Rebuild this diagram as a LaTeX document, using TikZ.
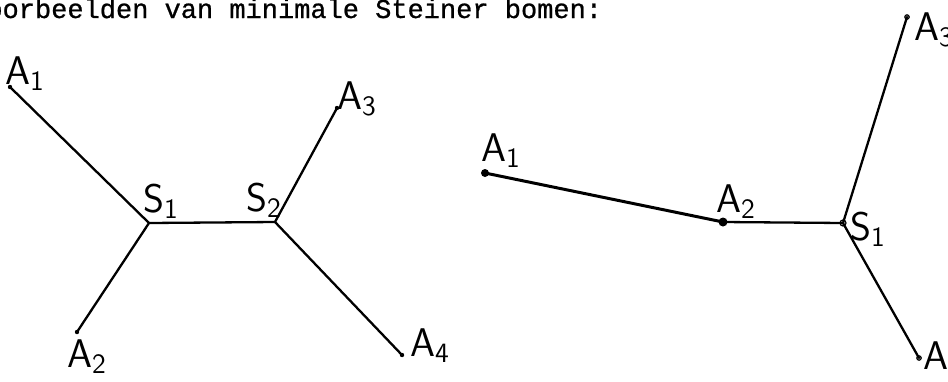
\documentclass[tikz,border=0pt]{standalone}
\usepackage{fontspec}
\newfontfamily\typefont{Liberation Mono}[FakeBold=0.8]

\begin{document}
\begin{tikzpicture}[x=0.5pt, y=-0.5pt,
  edge/.style={line width=1.15pt, line cap=round},
  thick edge/.style={line width=1.5pt, line cap=round},
  lbl/.style={font=\sffamily\fontsize{20}{24}\selectfont, inner sep=0pt},
  title/.style={font=\typefont\fontsize{13.5}{16}\selectfont, inner sep=0pt, anchor=base west}
]
  \useasboundingbox (0,0) rectangle (948,381);

  \node[title] (kop) at (-14,18) {oorbeelden van minimale Steiner bomen:};

  % linker boom
  \coordinate (lA1) at (10,87);
  \coordinate (lA2) at (77,332);
  \coordinate (lA3) at (337,108);
  \coordinate (lA4) at (402,355);
  \coordinate (lS1) at (149,223);
  \coordinate (lS2) at (275,222);
  \draw[edge] (lA1) -- (lS1) -- (lA2);
  \draw[edge] (lS1) -- (lS2);
  \draw[edge] (lA3) -- (lS2) -- (lA4);
  \foreach \p in {lA1, lA2, lA3, lA4} \fill (\p) circle (2.2);

  \node[lbl] (lblA1) at (25,74) {A\textsubscript{1}};
  \node[lbl] (lblA2) at (87,357) {A\textsubscript{2}};
  \node[lbl] (lblA3) at (357,99) {A\textsubscript{3}};
  \node[lbl] (lblA4) at (430,346) {A\textsubscript{4}};
  \node[lbl] (lblS1) at (161,201) {S\textsubscript{1}};
  \node[lbl] (lblS2) at (264,200) {S\textsubscript{2}};

  % rechter boom
  \coordinate (rA1) at (485,173);
  \coordinate (rA2) at (723,222);
  \coordinate (rA3) at (907,17);
  \coordinate (rA4) at (919,358);
  \coordinate (rS1) at (843,223);
  \draw[thick edge] (rA1) -- (rA2);
  \draw[edge] (rA2) -- (rS1) -- (rA3);
  \draw[edge] (rS1) -- (rA4);
  \fill (rA1) circle (4);
  \fill (rA2) circle (4.5);
  \draw[line width=0.6pt] (rS1) circle (3);
  \draw[line width=0.6pt] (rA3) circle (2.2);
  \draw[line width=0.6pt] (rA4) circle (2.2);

  \node[lbl] (lbrA1) at (501,151) {A\textsubscript{1}};
  \node[lbl] (lbrA2) at (736,202) {A\textsubscript{2}};
  \node[lbl] (lbrA3) at (934,30) {A\textsubscript{3}};
  \node[lbl] (lbrA4) at (943,359) {A\textsubscript{4}};
  \node[lbl] (lbrS1) at (868,229) {S\textsubscript{1}};
\end{tikzpicture}
\end{document}
